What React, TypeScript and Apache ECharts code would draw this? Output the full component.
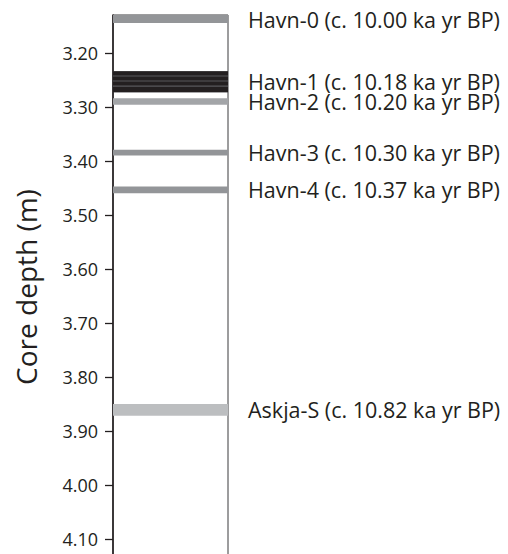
import React, { useEffect, useRef } from "react";
import * as echarts from "echarts";

// Depth axis ticks (m)
const depthTicks = [3.2, 3.3, 3.4, 3.5, 3.6, 3.7, 3.8, 3.9, 4.0, 4.1];

// Tephra layers in the core: name, age (ka yr BP), top and base depth (m)
const layerNames = ["Havn-0", "Havn-1", "Havn-2", "Havn-3", "Havn-4", "Askja-S"];
const layerAges = [10.0, 10.18, 10.2, 10.3, 10.37, 10.82];
const layerTops = [3.13, 3.234, 3.284, 3.3796, 3.4476, 3.85];
const layerBases = [3.145, 3.2728, 3.2963, 3.39, 3.4598, 3.8717];
const layerColors = ["#939598", "#58595b", "#a3a5a8", "#939598", "#939598", "#bcbec0"];

// Dark laminae inside Havn-1
const havn1LaminaTops = [3.234, 3.244, 3.2533, 3.2626];
const havn1LaminaBases = [3.2422, 3.2513, 3.2606, 3.2728];

const FONT = '"Open Sans", "Noto Sans", sans-serif';
const INK = "#231f20";

export default function App() {
  const ref = useRef<HTMLDivElement>(null);

  useEffect(() => {
    if (!ref.current) return;
    const chart = echarts.init(ref.current, undefined, { renderer: "svg" });

    const layerData = layerNames.map((_, i) => [layerTops[i], layerBases[i], i]);
    const laminaData = havn1LaminaTops.map((t, i) => [t, havn1LaminaBases[i]]);
    const labelData = layerNames.map((_, i) => [(layerTops[i] + layerBases[i]) / 2, i]);

    const bandRect = (api: any, top: number, base: number, fill: string) => {
      const p0 = api.coord([0, top]);
      const p1 = api.coord([1, base]);
      return {
        type: "rect",
        shape: { x: p0[0], y: p0[1], width: p1[0] - p0[0], height: p1[1] - p0[1] },
        style: { fill },
      };
    };

    chart.setOption({
      animation: false,
      grid: {
        left: 113,
        top: 15,
        width: 115,
        bottom: -5,
        outerBoundsMode: "none",
        containLabel: false,
        show: true,
        borderColor: "#3a3a3c",
        borderWidth: 1,
        backgroundColor: "transparent",
      },
      xAxis: { type: "value", min: 0, max: 1, show: false },
      yAxis: {
        type: "value",
        inverse: true,
        min: 3.13,
        max: 4.137,
        splitLine: { show: false },
        axisLine: { show: true, lineStyle: { color: INK, width: 1.6 } },
        axisTick: {
          show: true,
          inside: false,
          length: 8,
          customValues: depthTicks,
          lineStyle: { color: INK, width: 1.3 },
        },
        axisLabel: {
          customValues: depthTicks,
          formatter: (v: number) => v.toFixed(2),
          margin: 15,
          color: INK,
          fontSize: 18,
          fontFamily: FONT,
        },
      },
      graphic: [
        {
          type: "text",
          x: 26,
          y: 287,
          rotation: Math.PI / 2,
          style: {
            text: "Core depth (m)",
            fill: INK,
            fontSize: 28,
            fontFamily: FONT,
            align: "center",
            verticalAlign: "middle",
          },
        },
      ],
      series: [
        {
          type: "custom",
          data: layerData,
          encode: { y: [0, 1] },
          renderItem: (_p: any, api: any) =>
            bandRect(api, api.value(0), api.value(1), layerColors[api.value(2)]),
        },
        {
          type: "custom",
          data: laminaData,
          encode: { y: [0, 1] },
          renderItem: (_p: any, api: any) => bandRect(api, api.value(0), api.value(1), INK),
        },
        {
          type: "custom",
          data: labelData,
          encode: { y: 0 },
          clip: false,
          renderItem: (params: any, api: any) => {
            const i = api.value(1);
            const cs = params.coordSys;
            const y = api.coord([0, api.value(0)])[1];
            return {
              type: "text",
              x: cs.x + cs.width + 20,
              y,
              style: {
                text: `${layerNames[i]} (c. ${layerAges[i].toFixed(2)} ka yr BP)`,
                fill: INK,
                fontSize: 21.5,
                lineHeight: 19,
                fontFamily: FONT,
                align: "left",
                verticalAlign: "middle",
              },
            };
          },
        },
      ],
    });

    return () => chart.dispose();
  }, []);

  return (
    <div
      ref={ref}
      style={{ position: "fixed", left: 0, top: 0, width: 508, height: 554, background: "#fff" }}
    />
  );
}
